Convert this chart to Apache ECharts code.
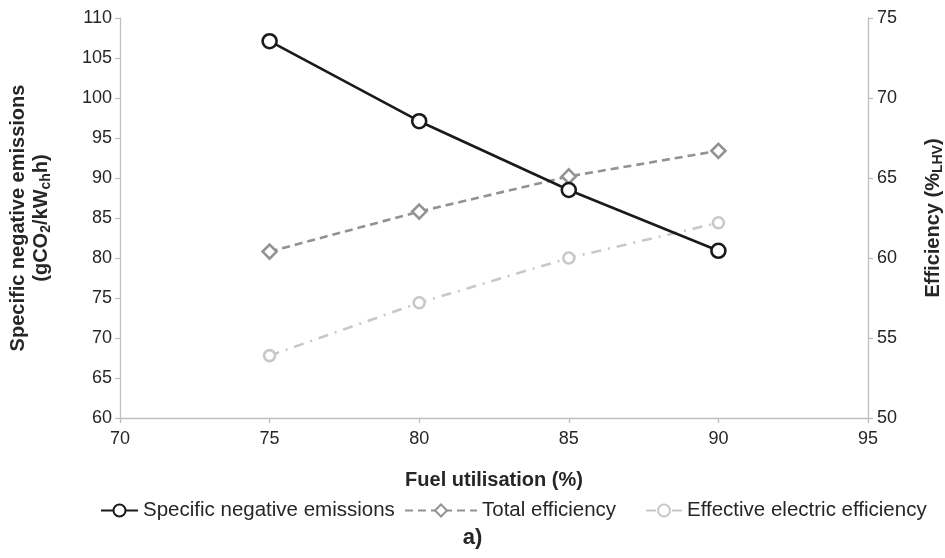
<!DOCTYPE html>
<html>
<head>
<meta charset="utf-8">
<script src="https://cdn.jsdelivr.net/npm/echarts@6/dist/echarts.min.js"></script>
<style>
  html, body { margin: 0; padding: 0; background: #ffffff; }
  #chart { width: 945px; height: 558px; }
</style>
</head>
<body>
<div id="chart"></div>
<script>
// Fuel utilisation (%) on the x axis
const fuelUtilisation = [75, 80, 85, 90];
// Specific negative emissions, gCO2/kWch h (left axis)
const specificEmissions = [107.1, 97.1, 88.5, 80.9];
// Total efficiency, %LHV (right axis)
const totalEfficiency = [60.4, 62.9, 65.1, 66.7];
// Effective electric efficiency, %LHV (right axis)
const electricEfficiency = [53.9, 57.2, 60.0, 62.2];

const seriesNames = ['Specific negative emissions', 'Total efficiency', 'Effective electric efficiency'];

const FONT = 'Liberation Sans, Arial, sans-serif';
const AXIS_GREY = '#bfbfbf';
const TEXT = '#262626';

const pairs = (ys) => fuelUtilisation.map((x, i) => [x, ys[i]]);

const chart = echarts.init(document.getElementById('chart'), null, { renderer: 'canvas' });

const axisCommon = {
  type: 'value',
  axisLine: { show: true, lineStyle: { color: AXIS_GREY, width: 1.3 } },
  axisTick: { show: true, length: 5, lineStyle: { color: AXIS_GREY, width: 1.3 } },
  splitLine: { show: false },
  axisLabel: { color: TEXT, fontFamily: FONT, fontSize: 18, margin: 8 }
};

const titleStyle = { color: TEXT, fontFamily: FONT, fontSize: 20, fontWeight: 'bold' };
const subStyle = { fontFamily: FONT, fontSize: 14, fontWeight: 'bold', color: TEXT, verticalAlign: 'bottom', padding: [9, 0, 0, 0] };

// one legend block per series so each key sits where it belongs in the row
const legendSlot = (name, left, width) => ({
  data: [name],
  top: 500,
  left: left,
  itemWidth: width,
  itemHeight: 15,
  itemGap: 0,
  padding: 0,
  textStyle: { color: TEXT, fontFamily: FONT, fontSize: 20.5 }
});

chart.setOption({
  animation: false,
  backgroundColor: '#ffffff',
  grid: { left: 120, right: 77, top: 18, bottom: 140, containLabel: false, outerBoundsMode: 'none' },
  title: {
    text: 'a)',
    left: 'center',
    top: 527,
    textStyle: { color: TEXT, fontFamily: FONT, fontSize: 22, fontWeight: 'bold' },
    padding: 0
  },
  legend: [
    legendSlot(seriesNames[0], 100, 37),
    legendSlot(seriesNames[1], 404, 72),
    legendSlot(seriesNames[2], 645, 36)
  ],
  xAxis: Object.assign({}, axisCommon, {
    min: 70, max: 95, interval: 5,
    axisLabel: Object.assign({}, axisCommon.axisLabel, { margin: 12 }),
    name: 'Fuel utilisation (%)',
    nameLocation: 'middle',
    nameGap: 52,
    nameTextStyle: titleStyle
  }),
  yAxis: [
    Object.assign({}, axisCommon, {
      position: 'left',
      min: 60, max: 110, interval: 5,
      name: 'Specific negative emissions\n(gCO{sub|2}/kW{sub|ch}h)',
      nameLocation: 'middle',
      nameRotate: 90,
      nameGap: 67,
      nameTextStyle: Object.assign({}, titleStyle, {
        lineHeight: 23,
        align: 'center',
        rich: { sub: Object.assign({}, subStyle, { lineHeight: 17 }) }
      })
    }),
    Object.assign({}, axisCommon, {
      position: 'right',
      min: 50, max: 75, interval: 5,
      axisLabel: Object.assign({}, axisCommon.axisLabel, { margin: 9 }),
      name: 'Efficiency (%{sub|LHV})',
      nameLocation: 'middle',
      nameRotate: 90,
      nameGap: 54,
      nameTextStyle: Object.assign({}, titleStyle, { rich: { sub: subStyle } })
    })
  ],
  series: [
    {
      name: seriesNames[0],
      type: 'line',
      yAxisIndex: 0,
      data: pairs(specificEmissions),
      symbol: 'circle',
      symbolSize: 14,
      lineStyle: { color: '#1a1a1a', width: 2.6 },
      itemStyle: { color: '#ffffff', borderColor: '#1a1a1a', borderWidth: 2.6 },
      z: 5
    },
    {
      name: seriesNames[1],
      type: 'line',
      yAxisIndex: 1,
      data: pairs(totalEfficiency),
      symbol: 'diamond',
      symbolSize: 14,
      lineStyle: { color: '#929292', width: 2.6, type: [8, 5] },
      itemStyle: { color: '#ffffff', borderColor: '#929292', borderWidth: 2.6 },
      z: 4
    },
    {
      name: seriesNames[2],
      type: 'line',
      yAxisIndex: 1,
      data: pairs(electricEfficiency),
      symbol: 'circle',
      symbolSize: 11,
      lineStyle: { color: '#c8c8c8', width: 2.6, type: [10, 7, 2, 7] },
      itemStyle: { color: '#ffffff', borderColor: '#c8c8c8', borderWidth: 2.6 },
      z: 3
    }
  ]
});
</script>
</body>
</html>
